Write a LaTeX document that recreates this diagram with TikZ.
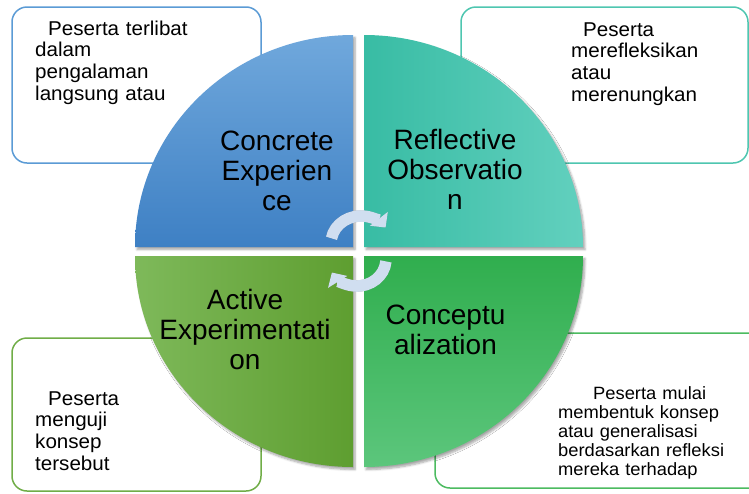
\documentclass[tikz,border=0pt]{standalone}
\usepackage{fontspec}
\setmainfont{Liberation Sans}
\newfontfamily\notefont[FakeStretch=1.03]{Liberation Sans}
\usetikzlibrary{arrows.meta,shadows.blur}

\definecolor{ceEdge}{RGB}{91,155,213}
\definecolor{roEdge}{RGB}{78,198,176}
\definecolor{aeEdge}{RGB}{112,173,71}
\definecolor{acEdge}{RGB}{76,187,96}
\definecolor{ceTop}{RGB}{112,168,220}
\definecolor{ceBot}{RGB}{62,128,196}
\definecolor{roLeft}{RGB}{56,188,164}
\definecolor{roRight}{RGB}{98,208,190}
\definecolor{aeLeft}{RGB}{126,185,90}
\definecolor{aeRight}{RGB}{94,158,48}
\definecolor{acTop}{RGB}{48,174,78}
\definecolor{acBot}{RGB}{92,198,124}
\definecolor{cycleArrow}{RGB}{208,222,240}

\begin{document}
\begin{tikzpicture}[x=1pt,y=1pt,
  notebox/.style={rounded corners=15pt, line width=1.5pt, fill=white},
  note/.style={anchor=base west, inner sep=0pt, text width=#1, align=left,
    font=\notefont\fontsize{20}{21.7}\selectfont},
  smallnote/.style={anchor=base west, inner sep=0pt, text width=#1, align=left,
    font=\notefont\fontsize{17.8}{19}\selectfont},
  quadlabel/.style={anchor=base, inner sep=0pt, text width=230pt, align=center,
    font=\fontsize{28}{30}\selectfont},
  quad/.style={blur shadow={shadow xshift=2pt, shadow yshift=-2.5pt,
    shadow blur steps=6, shadow opacity=35}},
  cyclearrow/.style={line width=11.5pt, color=cycleArrow,
    -{Triangle[length=11pt, width=22pt]}},
  arrowshadow/.style={cyclearrow, color=black!60, opacity=0.4, shift={(1.2pt,-2pt)}}]

\useasboundingbox (0,0) rectangle (749,-493);
\clip (0,0) rectangle (749,-493);

% note boxes behind the cycle
\draw[notebox, draw=ceEdge] (12,-7) rectangle (261,-163);
\draw[notebox, draw=roEdge] (461,-7) rectangle (748,-163);
\draw[notebox, draw=aeEdge] (12,-338) rectangle (261,-491);
\draw[notebox, draw=acEdge] (435,-333) rectangle (770,-488);

\node[note=210pt] (ceNote) at (35,-35)
  {\hspace*{13pt}Peserta terlibat\\dalam\\pengalaman\\langsung atau};
\node[note=170pt] (roNote) at (571,-36)
  {\hspace*{12pt}Peserta\\merefleksikan\\atau\\merenungkan};
\node[note=200pt] (aeNote) at (35,-405)
  {\hspace*{13pt}Peserta\\menguji\\konsep\\tersebut};
\node[smallnote=190pt] (acNote) at (558,-399)
  {\hspace*{35pt}Peserta mulai\\membentuk konsep\\atau generalisasi\\berdasarkan refleksi\\mereka terhadap};

% four quadrants of the learning cycle
\path[quad, top color=ceTop, bottom color=ceBot]
  (353,-247) -- (135,-247) arc[start angle=180, end angle=90, x radius=218, y radius=212] -- cycle;
\path[quad, left color=roLeft, right color=roRight]
  (364,-247) -- (364,-35) arc[start angle=90, end angle=0, x radius=219, y radius=212] -- cycle;
\path[quad, left color=aeLeft, right color=aeRight]
  (353,-256) -- (135,-256) arc[start angle=180, end angle=270, x radius=218, y radius=211] -- cycle;
\path[quad, top color=acTop, bottom color=acBot]
  (364,-256) -- (583,-256) arc[start angle=0, end angle=-90, x radius=219, y radius=211] -- cycle;

\node[quadlabel] (ce) at (277,-150) {Concrete\\Experien\\ce};
\node[quadlabel] (ro) at (455,-149) {Reflective\\Observatio\\n};
\node[quadlabel] (ae) at (245,-309) {Active\\Experimentati\\on};
\node[quadlabel] (ac) at (445.5,-324) {Conceptu\\alization};

% circular arrows at the centre, each with a soft shadow beneath
\coordinate (topStart) at (331.5,-238.3);
\coordinate (botStart) at (385.9,-261.4);
\draw[arrowshadow] (topStart) arc[start angle=170, end angle=35, x radius=30, y radius=27];
\draw[cyclearrow] (topStart) arc[start angle=170, end angle=35, x radius=30, y radius=27];
\draw[arrowshadow] (botStart) arc[start angle=-5, end angle=-150, x radius=29, y radius=27];
\draw[cyclearrow] (botStart) arc[start angle=-5, end angle=-150, x radius=29, y radius=27];

\end{tikzpicture}
\end{document}
